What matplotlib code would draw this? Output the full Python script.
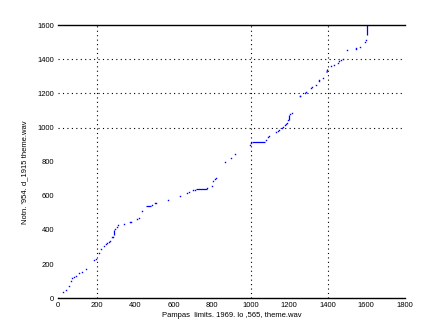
import matplotlib
matplotlib.use("Agg")
import matplotlib.pyplot as plt

# path points (x: reference frames, y: query frames)
px = [0, 28, 40, 54, 68, 74, 85, 92, 106, 123, 144, 184, 196, 210, 222, 241, 248, 256,
      265, 269, 282, 284, 293, 305, 312, 340, 371, 378, 409, 418, 435, 487, 501, 508,
      573, 634, 672, 682, 700, 709, 776, 799, 807, 813, 820, 865, 896, 917, 998, 1004,
      1081, 1088, 1095, 1132, 1142, 1150, 1163, 1171, 1180, 1185, 1190, 1196, 1206,
      1213, 1255, 1258, 1281, 1289, 1314, 1319, 1338, 1353, 1358, 1376, 1416, 1431,
      1452, 1462, 1470, 1478, 1499, 1546, 1548, 1567, 1593, 1598]
py = [0, 35, 49, 70, 98, 120, 125, 129, 150, 155, 173, 221, 230, 262, 289, 306, 315, 322,
      328, 336, 356, 359, 404, 418, 426, 434, 449, 449, 465, 467, 513, 545, 555, 559,
      578, 598, 619, 623, 631, 631, 643, 656, 687, 696, 702, 800, 824, 846, 899, 907,
      926, 942, 953, 971, 981, 985, 995, 1004, 1012, 1020, 1027, 1043, 1077,
      1087, 1184, 1184, 1200, 1207, 1229, 1235, 1247, 1272, 1278, 1291, 1358, 1366,
      1379, 1389, 1395, 1401, 1455, 1459, 1465, 1471, 1504, 1514]

# dense runs of the path (start x, start y, end x, end y)
seg_x0 = [288, 457, 717, 1010, 1199, 1397, 1605]
seg_y0 = [369, 539, 637, 918, 1043, 1321, 1545]
seg_x1 = [288, 482, 773, 1076, 1199, 1400, 1605]
seg_y1 = [399, 539, 637, 918, 1072, 1340, 1600]

xticks = [0, 200, 400, 600, 800, 1000, 1200, 1400, 1600, 1800]
yticks = [0, 200, 400, 600, 800, 1000, 1200, 1400, 1600]
xgrid = [200, 1000, 1400]
ygrid = [1000, 1200, 1400]

xlabel = "Pampas  limits. 1969. lo ,565, theme.wav"
ylabel = "Notn. '954. d_1915 theme.wav"

plt.rcParams['font.family'] = ['Liberation Sans', 'DejaVu Sans']
fig = plt.figure(figsize=(4.47, 3.35), dpi=100)
ax = fig.add_axes([0.13, 0.11, 0.775, 0.815])

for a, b, c, d in zip(seg_x0, seg_y0, seg_x1, seg_y1):
    ax.plot([a, c], [b, d], color='#0000ff', lw=0.9, solid_capstyle='butt')
ax.plot(px, py, linestyle='none', marker='s', markersize=1.0, color='#0000ff', mew=0)

ax.set_xlim(0, 1800)
ax.set_ylim(0, 1600)
ax.set_xticks(xticks)
ax.set_yticks(yticks)
ax.set_xticks(xgrid, minor=True)
ax.set_yticks(ygrid, minor=True)
ax.tick_params(which='major', length=0, labelsize=5.5, pad=3)
ax.tick_params(which='minor', length=4, direction='in', width=0.8,
               top=True, right=True, labelbottom=False, labelleft=False)

for g in xgrid:
    ax.axvline(g, color='black', lw=0.8, ls=(0, (1, 3)), zorder=0)
for g in ygrid:
    ax.axhline(g, color='black', lw=0.8, ls=(0, (1, 3)), zorder=0)

ax.spines['left'].set_visible(False)
ax.spines['right'].set_visible(False)
ax.spines['top'].set_linewidth(1.0)
ax.spines['bottom'].set_linewidth(1.0)

ax.set_xlabel(xlabel, fontsize=5.5, labelpad=2)
ax.set_ylabel(ylabel, fontsize=5.5)
ax.yaxis.set_label_coords(-0.087, 0.46)

fig.savefig('out.png', dpi=100)
